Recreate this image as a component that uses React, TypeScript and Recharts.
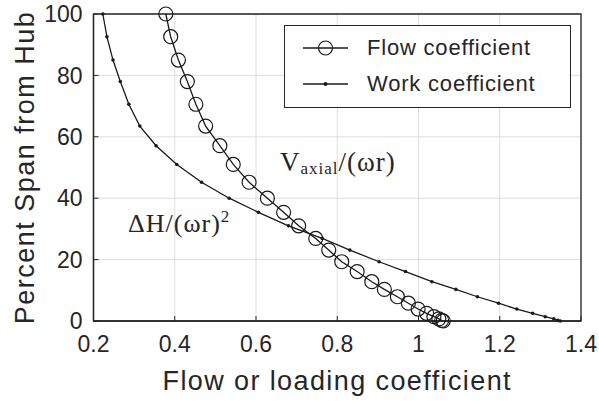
import { LineChart, Line, XAxis, YAxis, CartesianGrid, Legend, ReferenceArea } from 'recharts';

// percent span stations (same for both curves)
const spanPct = [100, 92.6, 85, 78, 70.6, 63.5, 57.1, 51, 45.2, 40, 35.4, 31, 26.9, 23.1, 19.3, 16.1, 12.8, 10.3, 7.9, 5.8, 3.9, 2.5, 1.4, 0.7, 0.2, 0];

// Vaxial/(wr)
const flowCoef = [0.378, 0.39, 0.409, 0.431, 0.452, 0.476, 0.511, 0.544, 0.583, 0.628, 0.668, 0.705, 0.747, 0.779, 0.811, 0.849, 0.885, 0.916, 0.948, 0.975, 0.999, 1.02, 1.038, 1.05, 1.057, 1.061];

// dH/(wr)^2
const workCoef = [0.223, 0.233, 0.248, 0.266, 0.287, 0.314, 0.354, 0.405, 0.466, 0.534, 0.606, 0.68, 0.763, 0.831, 0.903, 0.968, 1.033, 1.092, 1.145, 1.197, 1.242, 1.281, 1.312, 1.333, 1.343, 1.349];

const xTicks = [0.2, 0.4, 0.6, 0.8, 1, 1.2, 1.4];
const yTicks = [0, 20, 40, 60, 80, 100];
const seriesNames = ['Flow coefficient', 'Work coefficient'];

const flowData = spanPct.map((s, i) => ({ coef: flowCoef[i], span: s }));
const workData = spanPct.map((s, i) => ({ coef: workCoef[i], span: s }));

const INK  = '#262626';
const SANS = '"Liberation Sans", Arial, sans-serif';
const SERIF = '"Liberation Serif", "Times New Roman", serif';

function LegendBox() {
  const row = (i: number, top: number) => (
    <div style={{ position: 'absolute', left: 0, top, height: 0, width: '100%' }}>
      <svg width={70} height={20} style={{ position: 'absolute', left: 14, top: -10 }}>
        <line x1={4} y1={10} x2={49} y2={10} stroke="#1a1a1a" strokeWidth={1.3} />
        {i === 0
          ? <circle cx={26.5} cy={10} r={7} fill="none" stroke="#1a1a1a" strokeWidth={1.2} />
          : <circle cx={26.5} cy={10} r={2} fill="#1a1a1a" />}
      </svg>
      <span style={{ position: 'absolute', left: 82, top: -13, lineHeight: '26px', whiteSpace: 'nowrap' }}>
        {seriesNames[i]}
      </span>
    </div>
  );
  return (
    <div style={{
      position: 'relative', width: 287, height: 83, boxSizing: 'border-box',
      border: `1.3px solid ${INK}`, background: '#fff',
      fontFamily: SANS, fontSize: 22, letterSpacing: 0.8, color: INK,
    }}>
      {row(0, 22)}
      {row(1, 58)}
    </div>
  );
}

export default function App() {
  const tickStyle = { fill: INK, fontSize: 23, fontFamily: SANS };
  const axisLine = { stroke: INK, strokeWidth: 1.3 };
  const tickLine = { stroke: INK, strokeWidth: 1 };

  return (
    <div style={{ position: 'absolute', left: 0, top: 0, width: 599, height: 401, background: '#fff' }}>
      <LineChart width={599} height={401} margin={{ top: 14, right: 18, left: 23.5, bottom: 5 }}>
        <CartesianGrid stroke="#dedede" strokeWidth={1} />
        <XAxis
          type="number"
          dataKey="coef"
          domain={[0.2, 1.4]}
          ticks={xTicks}
          allowDataOverflow
          height={75}
          axisLine={axisLine}
          tickLine={tickLine}
          tickSize={-5}
          tickMargin={20}
          tick={tickStyle}
          tickFormatter={(v: number) => String(v)}
          label={{ value: 'Flow or loading coefficient', position: 'insideBottom', offset: 6, fill: INK, fontSize: 27, fontFamily: SANS, letterSpacing: 1.4 }}
        />
        <YAxis
          type="number"
          dataKey="span"
          domain={[0, 100]}
          ticks={yTicks}
          width={70}
          axisLine={axisLine}
          tickLine={tickLine}
          tickSize={-5}
          tickMargin={16}
          tick={tickStyle}
          label={{ value: 'Percent Span from Hub', angle: -90, position: 'insideLeft', offset: 1, fill: INK, fontSize: 27, fontFamily: SANS, letterSpacing: 1.5, style: { textAnchor: 'middle' } }}
        />
        <XAxis xAxisId="t" orientation="top" type="number" domain={[0.2, 1.4]} ticks={xTicks} height={0}
          axisLine={axisLine} tickLine={tickLine} tickSize={-5} tickFormatter={() => ''} />
        <YAxis yAxisId="r" orientation="right" type="number" domain={[0, 100]} ticks={yTicks} width={0}
          axisLine={axisLine} tickLine={tickLine} tickSize={-5} tickFormatter={() => ''} />
        <ReferenceArea x1={0.2} x2={1.4} y1={0} y2={100} fill="none" stroke={INK} strokeWidth={1.3} ifOverflow="visible" />
        <Legend
          layout="vertical"
          align="center"
          verticalAlign="middle"
          wrapperStyle={{ left: 284, top: 25, width: 287 }}
          content={() => <LegendBox />}
        />
        <Line
          name={seriesNames[0]}
          data={flowData}
          dataKey="span"
          type="linear"
          stroke="#1a1a1a"
          strokeWidth={1.3}
          dot={{ r: 7, fill: 'none', stroke: '#1a1a1a', strokeWidth: 1.2 }}
          isAnimationActive={false}
        />
        <Line
          name={seriesNames[1]}
          data={workData}
          dataKey="span"
          type="linear"
          stroke="#1a1a1a"
          strokeWidth={1.3}
          dot={{ r: 1.8, fill: '#1a1a1a', stroke: 'none' }}
          isAnimationActive={false}
        />
      </LineChart>

      <div style={{ position: 'absolute', left: 280, top: 147, fontFamily: SERIF, fontSize: 27, color: INK, letterSpacing: 1, whiteSpace: 'nowrap' }}>
        V<span style={{ fontSize: 17, position: 'relative', top: 3 }}>axial</span>/(ωr)
      </div>
      <div style={{ position: 'absolute', left: 128, top: 209, fontFamily: SERIF, fontSize: 26, color: INK, letterSpacing: 1, whiteSpace: 'nowrap' }}>
        ΔH/(ωr)<span style={{ fontSize: 17, position: 'relative', top: -10 }}>2</span>
      </div>
    </div>
  );
}
